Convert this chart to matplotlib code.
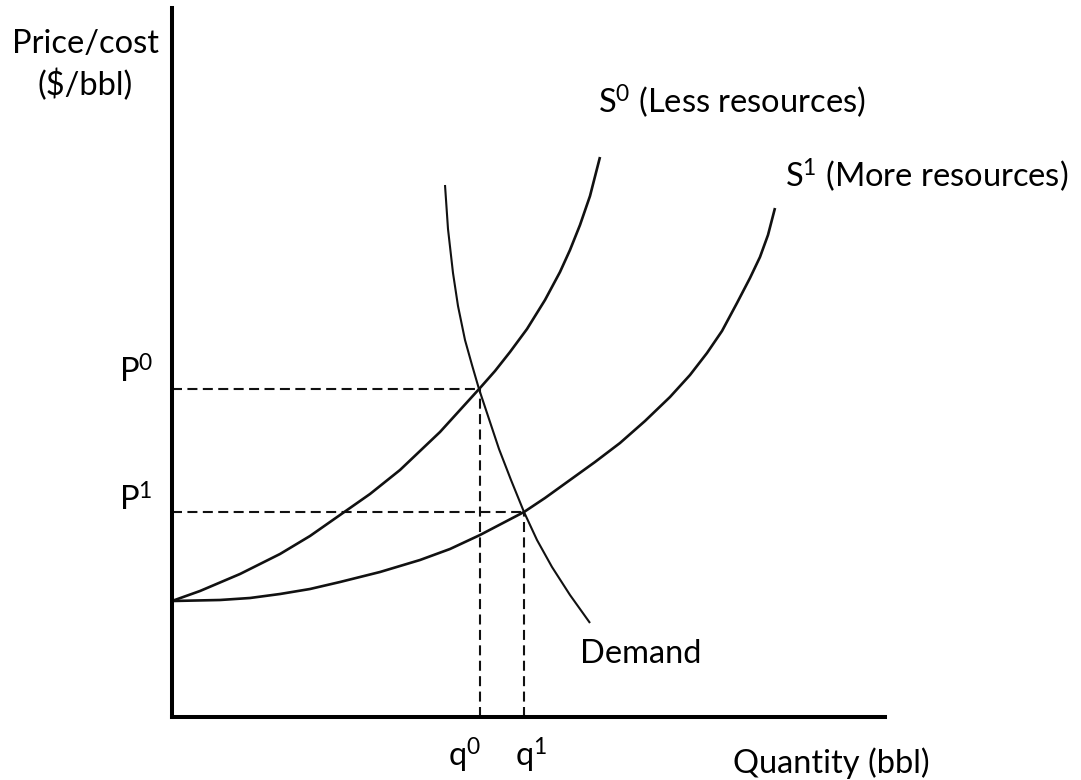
import matplotlib
matplotlib.use("Agg")
import matplotlib.pyplot as plt

# supply / demand curves (quantity, price)
s0_q = [0, 2.8, 6.8, 10.8, 13.8, 16.8, 19.8, 22.8, 26.8, 30.8, 32.3, 33.8, 35.5,
        37.3, 38.8, 39.8, 40.8, 41.8, 42.8]
s0_p = [11.6, 12.6, 14.3, 16.3, 18.1, 20.2, 22.3, 24.7, 28.5, 32.9, 34.6, 36.5, 38.8,
        41.7, 44.5, 46.7, 49.2, 52.1, 56.0]

s1_q = [0, 4.8, 7.8, 10.8, 13.8, 16.8, 20.8, 24.8, 27.8, 30.8, 35.2, 37.3, 39.8,
        42.3, 44.8, 47.3, 49.8, 51.8, 53.5, 55.0, 56.5, 57.8, 58.8, 59.6, 60.3]
s1_p = [11.6, 11.7, 11.9, 12.3, 12.8, 13.5, 14.5, 15.7, 16.8, 18.2, 20.5, 21.9, 23.7,
        25.5, 27.4, 29.6, 32.0, 34.2, 36.4, 38.6, 41.4, 43.9, 46.0, 48.2, 50.9]

dem_q = [27.3, 27.6, 28.1, 28.6, 29.3, 30.0, 30.7, 31.7, 32.7, 33.9, 35.2, 36.5,
         38.0, 39.8, 41.8]
dem_p = [53.2, 48.8, 44.4, 41.1, 37.7, 35.2, 32.8, 29.8, 26.8, 23.7, 20.5, 17.7,
         15.0, 12.2, 9.4]

# equilibrium points
eq_q = [30.8, 35.2]
eq_p = [32.8, 20.5]

plt.rcParams['font.family'] = ['Lato', 'DejaVu Sans']
plt.rcParams['mathtext.fontset'] = 'custom'
plt.rcParams['mathtext.rm'] = 'Lato'
plt.rcParams['mathtext.it'] = 'Lato:italic'
plt.rcParams['mathtext.bf'] = 'Lato:bold'

fig = plt.figure(figsize=(10.81, 7.80), dpi=100)
fig.patch.set_facecolor('white')
ax = fig.add_axes([172/1081, 63/780, 713/1081, 709/780])
ax.set_xlim(0, 71.3)
ax.set_ylim(0, 70.9)

for side in ['top', 'right']:
    ax.spines[side].set_visible(False)
for side in ['left', 'bottom']:
    ax.spines[side].set_linewidth(2.9)
    ax.spines[side].set_color('black')
ax.set_xticks([])
ax.set_yticks([])

col = '#111111'
ax.plot(s0_q, s0_p, color=col, lw=1.9, solid_capstyle='butt', solid_joinstyle='round')
ax.plot(s1_q, s1_p, color=col, lw=1.9, solid_capstyle='butt', solid_joinstyle='round')
ax.plot(dem_q, dem_p, color=col, lw=1.5, solid_capstyle='butt', solid_joinstyle='round')

# dashed guide lines to the axes
for q, p in zip(eq_q, eq_p):
    ax.plot([0, q], [p, p], color=col, lw=1.5, linestyle=(0, (4.8, 2.6)))
    ax.plot([q, q], [0, p], color=col, lw=1.5, linestyle=(0, (4.8, 2.6)))

fs = 23.5
ax.text(-8.6, 66.4, 'Price/cost', ha='center', va='baseline', fontsize=fs, clip_on=False)
ax.text(-8.7, 62.2, '($/bbl)', ha='center', va='baseline', fontsize=fs, clip_on=False)
ax.text(-1.9, eq_p[0] + 0.6, r'P$^{\mathrm{0}}$', ha='right', va='baseline', fontsize=fs, clip_on=False)
ax.text(-1.9, eq_p[1] + 0.1, r'P$^{\mathrm{1}}$', ha='right', va='baseline', fontsize=fs, clip_on=False)
ax.text(eq_q[0] - 1.5, -5.0, r'q$^{\mathrm{0}}$', ha='center', va='baseline', fontsize=fs, clip_on=False)
ax.text(eq_q[1] + 0.7, -5.0, r'q$^{\mathrm{1}}$', ha='center', va='baseline', fontsize=fs, clip_on=False)
ax.text(56.1, -5.6, 'Quantity (bbl)', ha='left', va='baseline', fontsize=fs, clip_on=False)
ax.text(40.8, 5.4, 'Demand', ha='left', va='baseline', fontsize=fs, clip_on=False)
ax.text(42.6, 60.4, r'S$^{\mathrm{0}}$ (Less resources)', ha='left', va='baseline', fontsize=fs, clip_on=False)
ax.text(61.3, 53.0, r'S$^{\mathrm{1}}$ (More resources)', ha='left', va='baseline', fontsize=fs, clip_on=False)

plt.savefig('out.png', dpi=100, facecolor='white')
